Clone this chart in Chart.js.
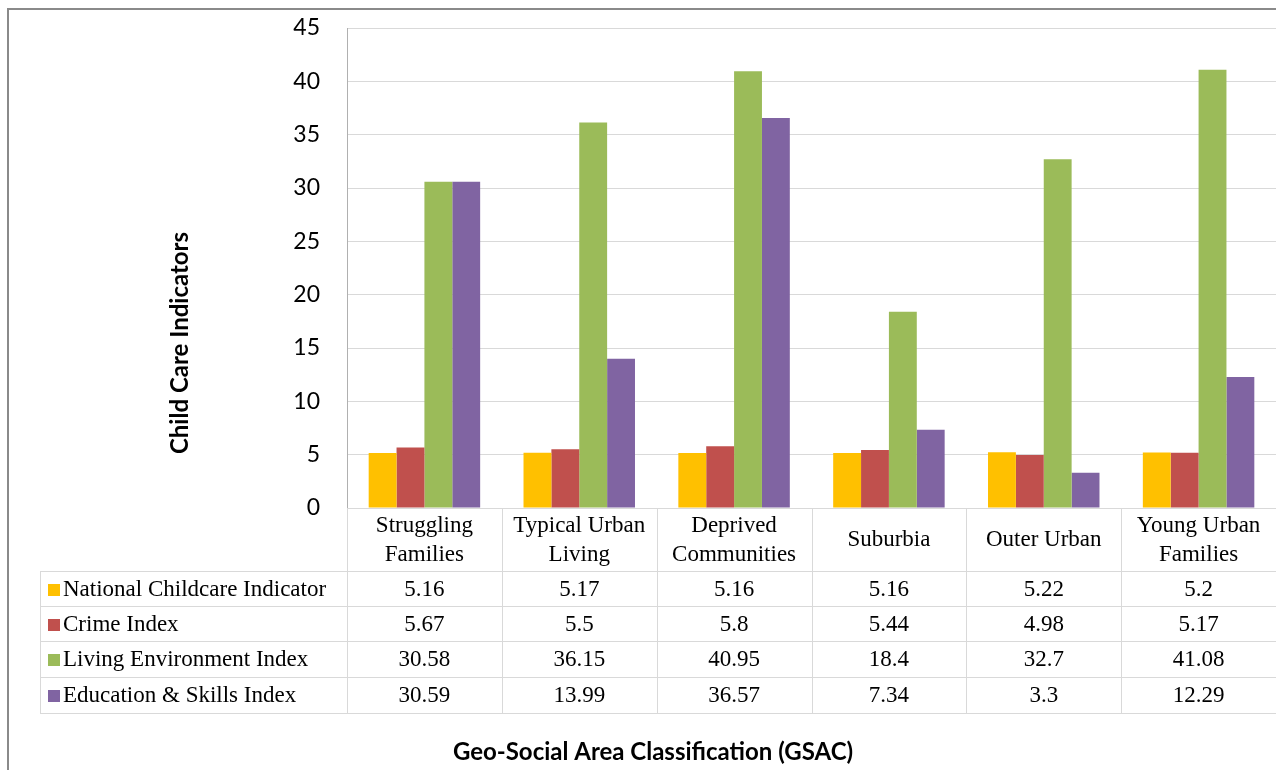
<!DOCTYPE html>
<html>
<head>
<meta charset="utf-8">
<script src="https://cdn.jsdelivr.net/npm/chart.js@4"></script>
<style>
  html, body { margin: 0; padding: 0; background: #fff; }
  #wrap { width: 1276px; height: 770px; position: relative; }
</style>
</head>
<body>
<div id="wrap"><canvas id="mainChart"></canvas></div>
<script>
// ------------------------------------------------------------
// Child care indicators by GSAC group, Excel style with data table
// ------------------------------------------------------------

const categories = [
  ["Struggling", "Families"],
  ["Typical Urban", "Living"],
  ["Deprived", "Communities"],
  ["Suburbia"],
  ["Outer Urban"],
  ["Young Urban", "Families"]
];

const seriesNames = [
  "National Childcare Indicator",
  "Crime Index",
  "Living Environment Index",
  "Education & Skills Index"
];

const nationalChildcare = [5.16, 5.17, 5.16, 5.16, 5.22, 5.2];
const crimeIndex = [5.67, 5.5, 5.8, 5.44, 4.98, 5.17];
const livingEnvironment = [30.58, 36.15, 40.95, 18.4, 32.7, 41.08];
const educationSkills = [30.59, 13.99, 36.57, 7.34, 3.3, 12.29];

const yTicks = [0, 5, 10, 15, 20, 25, 30, 35, 40, 45];

const seriesColors = ["#FFC000", "#C0504D", "#9BBB59", "#8064A2"];
const allSeries = [nationalChildcare, crimeIndex, livingEnvironment, educationSkills];

const LINE = "#d9d9d9";
const SERIF = "'Liberation Serif', 'Times New Roman', serif";

// draws the Excel data table, the axis titles and the outer frame
const tablePlugin = {
  id: "dataTable",
  afterDraw(chart) {
    const ctx = chart.ctx;
    const area = chart.chartArea;
    const x = chart.scales.x;
    const right = chart.width;
    const tableLeft = 40;
    const headerTop = area.bottom;
    const rowTops = [571, 606, 641, 677, 713];
    const colW = (area.right - area.left) / categories.length;

    ctx.save();

    // frame
    ctx.strokeStyle = "#8a8a8a";
    ctx.lineWidth = 2;
    ctx.strokeRect(8, 9, right + 10, chart.height + 10);

    // table grid
    ctx.strokeStyle = LINE;
    ctx.lineWidth = 1;
    ctx.beginPath();
    rowTops.forEach(y => {
      ctx.moveTo(tableLeft, y + 0.5);
      ctx.lineTo(right, y + 0.5);
    });
    ctx.moveTo(tableLeft + 0.5, rowTops[0]);
    ctx.lineTo(tableLeft + 0.5, rowTops[rowTops.length - 1]);
    for (let i = 0; i <= categories.length; i++) {
      const vx = Math.round(area.left + i * colW) + 0.5;
      ctx.moveTo(vx, headerTop);
      ctx.lineTo(vx, rowTops[rowTops.length - 1]);
    }
    ctx.stroke();

    // header labels
    ctx.fillStyle = "#000";
    ctx.font = "23px " + SERIF;
    ctx.textAlign = "center";
    ctx.textBaseline = "middle";
    categories.forEach((lines, i) => {
      const cx = x.getPixelForValue(i);
      if (lines.length === 1) {
        ctx.fillText(lines[0], cx, 540);
      } else {
        ctx.fillText(lines[0], cx, 526);
        ctx.fillText(lines[1], cx, 555);
      }
    });

    // series rows
    seriesNames.forEach((name, r) => {
      const cy = (rowTops[r] + rowTops[r + 1]) / 2 + 1;
      ctx.fillStyle = seriesColors[r];
      ctx.fillRect(48, Math.round(cy - 6), 12, 12);
      ctx.fillStyle = "#000";
      ctx.textAlign = "left";
      ctx.fillText(name, 63, cy);
      ctx.textAlign = "center";
      allSeries[r].forEach((v, i) => {
        ctx.fillText(String(v), x.getPixelForValue(i), cy);
      });
    });

    // axis titles
    ctx.font = "bold 24px Lato";
    ctx.fillText("Geo-Social Area Classification (GSAC)", 653, 752);
    ctx.translate(180, 343);
    ctx.rotate(-Math.PI / 2);
    ctx.fillText("Child Care Indicators", 0, 0);

    ctx.restore();
  }
};

const ctx = document.getElementById("mainChart").getContext("2d");

new Chart(ctx, {
  type: "bar",
  data: {
    labels: categories.map(c => c.join(" ")),
    datasets: seriesNames.map((name, i) => ({
      label: name,
      data: allSeries[i],
      backgroundColor: seriesColors[i],
      borderWidth: 0
    }))
  },
  options: {
    responsive: true,
    maintainAspectRatio: false,
    animation: false,
    datasets: {
      bar: { categoryPercentage: 0.72, barPercentage: 1 }
    },
    layout: { padding: { top: 28, right: 0, bottom: 262, left: 0 } },
    plugins: {
      legend: { display: false },
      tooltip: { enabled: false }
    },
    scales: {
      x: { display: false },
      y: {
        min: 0,
        max: 45,
        afterBuildTicks: scale => { scale.ticks = yTicks.map(v => ({ value: v })); },
        afterFit: scale => {
          // fixed axis width; tick padding must not push the plot top down
          scale.width = 347;
          scale.paddingTop = 0;
          scale.paddingBottom = 0;
        },
        ticks: {
          color: "#000",
          padding: 27,
          font: { family: "Lato", size: 23 }
        },
        grid: { color: LINE, drawTicks: false },
        border: { color: "#b0b0b0" }
      }
    }
  },
  plugins: [tablePlugin]
});
</script>
</body>
</html>
